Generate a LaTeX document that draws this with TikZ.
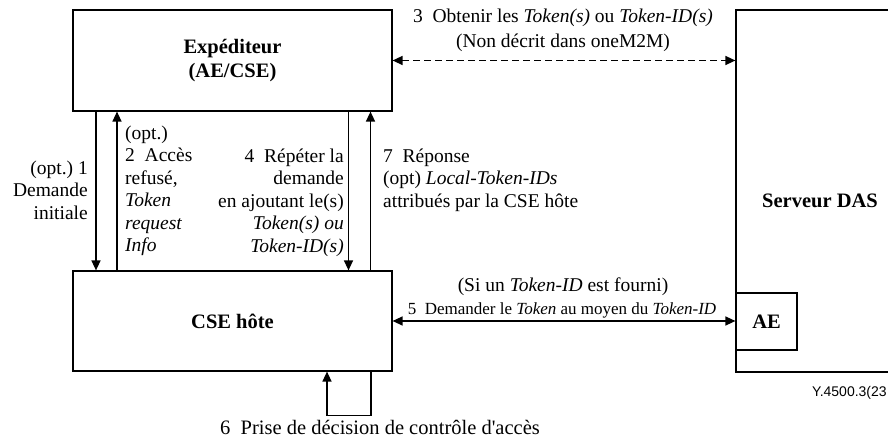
\documentclass[tikz,border=0pt]{standalone}
\usepackage{fontspec}
\setmainfont{Liberation Serif}
\newfontfamily\figsans{Liberation Sans}
\usetikzlibrary{arrows.meta}

\begin{document}
\begin{tikzpicture}[x=1pt,y=1pt,
  box/.style={draw, line width=1.2pt, rectangle, inner sep=0pt},
  boxlbl/.style={font=\fontsize{20.5}{24}\selectfont\bfseries, align=center, inner sep=0pt},
  txt/.style={font=\fontsize{19.5}{22.5}\selectfont, inner sep=0pt},
  tip/.tip={Triangle[length=10pt,width=9pt]},
  arr/.style={line width=1.4pt, -tip},
  biarr/.style={line width=1.4pt, tip-tip},
]
\useasboundingbox (0,0) rectangle (888,443);
\clip (0,0) rectangle (888,443);

% boxes
\node[box, minimum width=319pt, minimum height=101pt] (exp) at (232.5,382.5) {};
\node[boxlbl] (explbl) at (exp.center) {Expéditeur\\(AE/CSE)};
\node[box, minimum width=319pt, minimum height=100pt] (cse) at (232.5,122) {};
\node[boxlbl] (cselbl) at (cse.center) {CSE hôte};
\node[box, minimum width=170pt, minimum height=362pt] (das) at (821,252) {};
\node[boxlbl] (daslbl) at (820,242) {Serveur DAS};
\node[box, fill=white, minimum width=61pt, minimum height=57pt] (ae) at (766.5,121.5) {};
\node[boxlbl] (aelbl) at (ae.center) {AE};

% vertical positions of the message arrows
\coordinate (x1) at (96,0);
\coordinate (x2) at (117,0);
\coordinate (x4) at (348.5,0);
\coordinate (x7) at (370.5,0);
\coordinate (lx1) at (327,0);
\coordinate (lx2) at (371,0);

\draw[arr] (exp.south -| x1) -- (cse.north -| x1);
\draw[arr] (cse.north -| x2) -- (exp.south -| x2);
\draw[arr] (exp.south -| x4) -- (cse.north -| x4);
\draw[arr] (cse.north -| x7) -- (exp.south -| x7);

% exchanges with the DAS server
\draw[biarr, dash pattern=on 7pt off 4pt] (exp.east) -- (exp.east -| das.west);
\draw[biarr] (cse.east) -- (cse.east -| ae.west);

% local access decision loop
\draw[arr] (cse.south -| lx2) -- ++(0,-44) -| (cse.south -| lx1);

% message labels
\node[txt, align=right, anchor=north east] (t1) at (88,282.5)
  {(opt.)~1\\Demande\\initiale};
\node[txt, align=left, anchor=north west] (t2) at (125,317.5)
  {(opt.)\\2~~Accès\\refusé,\\\textit{Token}\\\textit{request}\\\textit{Info}};
\node[txt, align=right, anchor=north east] (t4) at (344,294.5)
  {4~~Répéter la\\demande\\en ajoutant le(s)\\\textit{Token(s) ou}\\\textit{Token-ID(s)}};
\node[txt, align=left, anchor=north west] (t7) at (383,294.5)
  {7~~Réponse\\(opt) \textit{Local-Token-IDs}\\attribués par la CSE hôte};
\node[txt, align=center, anchor=north, font=\fontsize{19.5}{25}\selectfont] (t3) at (563,434)
  {3~~Obtenir les \textit{Token(s)} ou \textit{Token-ID(s)}\\(Non décrit dans oneM2M)};
\node[txt, anchor=base] (t5a) at (563,151) {(Si un \textit{Token-ID} est fourni)};
\node[txt, anchor=base, font=\fontsize{17}{20}\selectfont] (t5b) at (562,128)
  {5~~Demander le \textit{Token} au moyen du \textit{Token-ID}};
\node[txt, anchor=base west, font=\fontsize{20.5}{24}\selectfont] (t6) at (220,8)
  {6~~Prise de décision de contrôle d\textquotesingle accès};
\node[inner sep=0pt, anchor=base west, font=\figsans\fontsize{14}{16}\selectfont] (ref) at (812,46) {Y.4500.3(23};
\end{tikzpicture}
\end{document}
